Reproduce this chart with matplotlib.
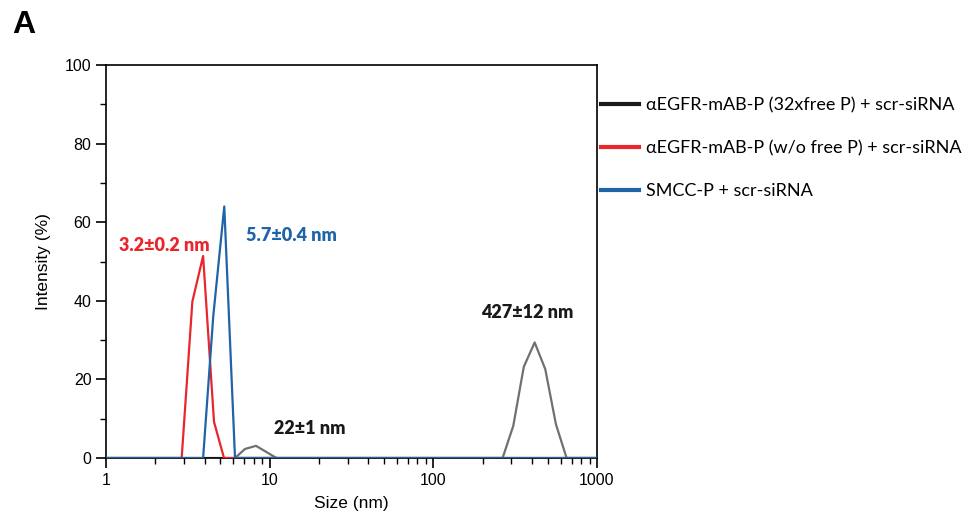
import matplotlib.pyplot as plt
from matplotlib.ticker import LogLocator, NullFormatter, FixedLocator

# Data (size in nm, intensity in %)
size_free = [1, 265, 308, 357, 416, 483, 561, 652, 1000]
int_free = [0, 0, 8.2, 23.2, 29.4, 22.6, 8.6, 0, 0]
size_free_small = [6.14, 7.07, 8.25, 11.0]
int_free_small = [0, 2.3, 3.1, 0]

size_wo = [1, 2.90, 3.37, 3.92, 4.57, 5.26, 1000]
int_wo = [0, 0, 39.8, 51.4, 9.2, 0, 0]

size_smcc = [1, 3.92, 4.52, 5.28, 6.14, 1000]
int_smcc = [0, 0, 36.0, 64.0, 0, 0]

labels = ["\u03b1EGFR-mAB-P (32xfree P) + scr-siRNA",
          "\u03b1EGFR-mAB-P (w/o free P) + scr-siRNA",
          "SMCC-P + scr-siRNA"]

peak_text = ["427\u00b112 nm", "22\u00b11 nm", "3.2\u00b10.2 nm", "5.7\u00b10.4 nm"]

xticks = [1, 10, 100, 1000]
xticklabels = ["1", "10", "100", "1000"]

grey = "#707070"
red = "#e8262b"
blue = "#1f63a8"

fig = plt.figure(figsize=(9.67, 5.22), dpi=100)
ax = fig.add_axes([106 / 967, 1 - 458 / 522, (597 - 106) / 967, (458 - 65) / 522])

# grey curve in the plot, black line in the legend
ax.plot(size_free, int_free, color=grey, lw=1.6, zorder=2)
ax.plot(size_free_small, int_free_small, color=grey, lw=1.6, zorder=2)
ax.plot(size_wo, int_wo, color=red, lw=1.6, zorder=3)
ax.plot(size_smcc, int_smcc, color=blue, lw=1.6, zorder=4)

# legend handles
h1, = ax.plot([], [], color="#1a1a1a", lw=3)
h2, = ax.plot([], [], color=red, lw=3)
h3, = ax.plot([], [], color=blue, lw=3)

ax.set_xscale("log")
ax.set_xlim(1, 1000)
ax.set_ylim(0, 100)
ax.set_yticks([0, 20, 40, 60, 80, 100])
ax.yaxis.set_minor_locator(FixedLocator([10, 30, 50, 70, 90]))
ax.xaxis.set_major_locator(FixedLocator(xticks))
ax.xaxis.set_minor_locator(LogLocator(base=10, subs=range(2, 10), numticks=20))
ax.xaxis.set_minor_formatter(NullFormatter())
ax.set_xticklabels(xticklabels)

for s in ax.spines.values():
    s.set_linewidth(1.2)
ax.tick_params(which="major", direction="out", length=7, width=1.2,
               labelsize=11.5, labelfontfamily="Liberation Sans")
ax.tick_params(which="minor", direction="out", length=4, width=1.0)

ax.set_xlabel("Size (nm)", fontsize=12.5, family="Liberation Sans", labelpad=6)
ax.set_ylabel("Intensity (%)", fontsize=12.5, family="Liberation Sans", labelpad=10)

ax.text(374, 37, peak_text[0], color="#1a1a1a", fontsize=13, fontweight="heavy",
        family="Lato", ha="center", va="center")
ax.text(17.6, 7.6, peak_text[1], color="#1a1a1a", fontsize=13, fontweight="heavy",
        family="Lato", ha="center", va="center")
ax.text(2.26, 54, peak_text[2], color=red, fontsize=13, fontweight="heavy",
        family="Lato", ha="center", va="center")
ax.text(13.5, 56.5, peak_text[3], color=blue, fontsize=13, fontweight="heavy",
        family="Lato", ha="center", va="center")

ax.legend([h1, h2, h3], labels, loc="upper left", bbox_to_anchor=(0.994, 0.937),
          frameon=False, prop={"family": "Lato", "size": 13},
          handlelength=2.1, handletextpad=0.4, labelspacing=1.5, borderaxespad=0)

fig.text(12 / 967, 1 - 33 / 522, "A", fontsize=23, fontweight="bold",
         family="Liberation Sans", ha="left", va="baseline")

fig.savefig("out.png", dpi=100)
